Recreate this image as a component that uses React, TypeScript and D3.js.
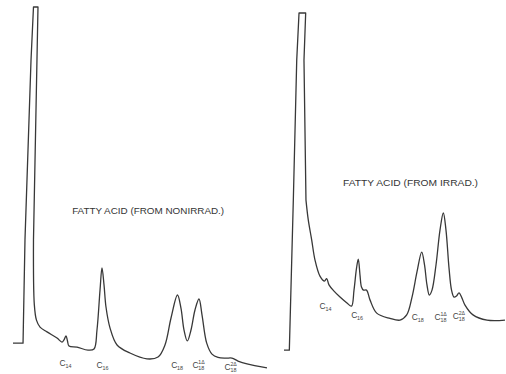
import * as React from "react";
import * as d3 from "d3";

// Gas chromatograms. Time in minutes, response in % of full scale.
const leftTime = [0, 1.18, 1.41, 2.12, 2.41, 2.94, 2.41, 2.51, 2.76, 3.18, 4.0, 5.18, 5.76, 6.0, 6.24, 6.41, 6.59, 7.53, 8.82, 9.53, 9.88, 10.24, 10.47, 10.71, 10.94, 11.41, 12.24, 13.76, 15.76, 17.06, 17.88, 18.59, 19.35, 19.76, 20.12, 20.51, 20.94, 21.41, 21.88, 22.24, 22.79, 23.41, 24.12, 25.06, 25.76, 26.47, 27.53, 29.88];
const leftSignal = [7.9, 7.9, 36.2, 85.5, 100, 100, 36.2, 18.4, 14.2, 12.3, 11.0, 9.3, 8.2, 8.8, 9.9, 8.5, 7.1, 6.8, 6.0, 6.3, 11.5, 22.5, 28.5, 23.8, 17.8, 12.1, 7.4, 5.2, 3.6, 4.1, 7.4, 14.8, 21.1, 17.5, 11.5, 8.5, 11.5, 17.0, 20.0, 15.6, 7.9, 4.9, 4.0, 3.8, 3.8, 3.0, 2.2, 1.1];

const rightTime = [0, 0.72, 1.26, 1.72, 2.03, 2.93, 2.7, 2.97, 3.28, 3.74, 4.19, 4.86, 5.47, 5.77, 6.08, 6.76, 7.57, 8.51, 9.12, 9.46, 9.8, 10.04, 10.27, 10.47, 10.74, 11.15, 11.62, 12.53, 14.32, 15.68, 16.58, 17.3, 17.97, 18.61, 18.99, 19.32, 19.64, 20.0, 20.54, 21.08, 21.53, 21.89, 22.3, 22.64, 22.97, 23.31, 23.65, 24.05, 24.46, 25.54, 27.43, 29.86];
const rightSignal = [3.4, 3.4, 46.4, 86.5, 100, 100, 86.5, 46.4, 40.7, 35.0, 29.2, 24.6, 23.2, 23.9, 22.1, 20.3, 18.6, 16.9, 16.0, 20.6, 26.9, 29.5, 24.9, 21.5, 20.6, 20.6, 17.8, 14.0, 12.5, 12.0, 13.5, 18.6, 25.8, 31.5, 27.8, 22.1, 19.2, 20.6, 27.8, 37.8, 42.7, 37.8, 26.9, 20.6, 18.6, 18.9, 19.8, 18.3, 16.3, 13.5, 12.0, 12.0];

// peak labels: carbon number (subscript), double bonds (superscript)
const peakSub = ["14", "16", "18", "18", "18"];
const peakSup = ["", "", "", "1Δ", "2Δ"];
const leftPeakTime = [6.12, 10.47, 19.26, 21.76, 25.53];
const leftPeakLevel = [2.5, 1.9, 1.9, 1.9, 1.4];
const rightPeakTime = [5.54, 9.82, 18.01, 21.08, 23.55];
const rightPeakLevel = [16.0, 13.5, 12.9, 12.9, 13.2];

const leftTitle = "FATTY ACID (FROM NONIRRAD.)";
const rightTitle = "FATTY ACID (FROM IRRAD.)";

const ink = "#383838";
const font = "'Liberation Sans', Arial, sans-serif";

function PeakLabel(props: { x: number; y: number; sub: string; sup: string }) {
    return (
        <g transform={`translate(${props.x},${props.y})`} fill="#444" fontFamily={font}>
            <text x={-5.5} y={3.2} fontSize={8.5}>C</text>
            <text x={0.4} y={5.2} fontSize={5.4}>{props.sub}</text>
            {props.sup && <text x={0.4} y={-0.8} fontSize={5.2}>{props.sup}</text>}
        </g>
    );
}

interface PanelProps {
    time: number[];
    signal: number[];
    spikeEnd: number; // solvent spike is drawn with straight pen strokes
    xRange: [number, number];
    yRange: [number, number];
    peakTime: number[];
    peakLevel: number[];
    title: string;
    titleAt: [number, number];
    titleWidth: number;
}

function Chromatogram(props: PanelProps) {
    let x = d3.scaleLinear().domain([0, 30]).range(props.xRange);
    let y = d3.scaleLinear().domain([0, 100]).range(props.yRange);

    let pts: [number, number][] = props.time.map((t, i) => [t, props.signal[i]]);
    let spike = d3.line<[number, number]>()
        .x(d => x(d[0]))
        .y(d => y(d[1]));
    let smooth = d3.line<[number, number]>()
        .x(d => x(d[0]))
        .y(d => y(d[1]))
        .curve(d3.curveCatmullRom.alpha(0.5));

    let d = (spike(pts.slice(0, props.spikeEnd + 1)) || "") + (smooth(pts.slice(props.spikeEnd)) || "").replace(/^M/, "L");

    return (
        <g>
            <path d={d} fill="none" stroke={ink} strokeWidth={1.3} strokeLinejoin="round" />
            <text
                x={x(props.titleAt[0])}
                y={y(props.titleAt[1]) + 3.3}
                textAnchor="middle"
                fontSize={9}
                fontFamily={font}
                fill="#353535"
                textLength={props.titleWidth}
                lengthAdjust="spacingAndGlyphs"
            >
                {props.title}
            </text>
            {props.peakTime.map((t, i) => (
                <PeakLabel key={i} x={x(t)} y={y(props.peakLevel[i])} sub={peakSub[i]} sup={peakSup[i]} />
            ))}
        </g>
    );
}

export default function App() {
    return (
        <svg width={506} height={374} style={{ position: "absolute", left: 0, top: 0, background: "#fff" }}>
            <Chromatogram
                time={leftTime}
                signal={leftSignal}
                spikeEnd={6}
                xRange={[13, 268]}
                yRange={[372, 7]}
                peakTime={leftPeakTime}
                peakLevel={leftPeakLevel}
                title={leftTitle}
                titleAt={[15.9, 44.1]}
                titleWidth={152}
            />
            <Chromatogram
                time={rightTime}
                signal={rightSignal}
                spikeEnd={7}
                xRange={[284, 506]}
                yRange={[362, 13]}
                peakTime={rightPeakTime}
                peakLevel={rightPeakLevel}
                title={rightTitle}
                titleAt={[17.1, 51.3]}
                titleWidth={135}
            />
        </svg>
    );
}
